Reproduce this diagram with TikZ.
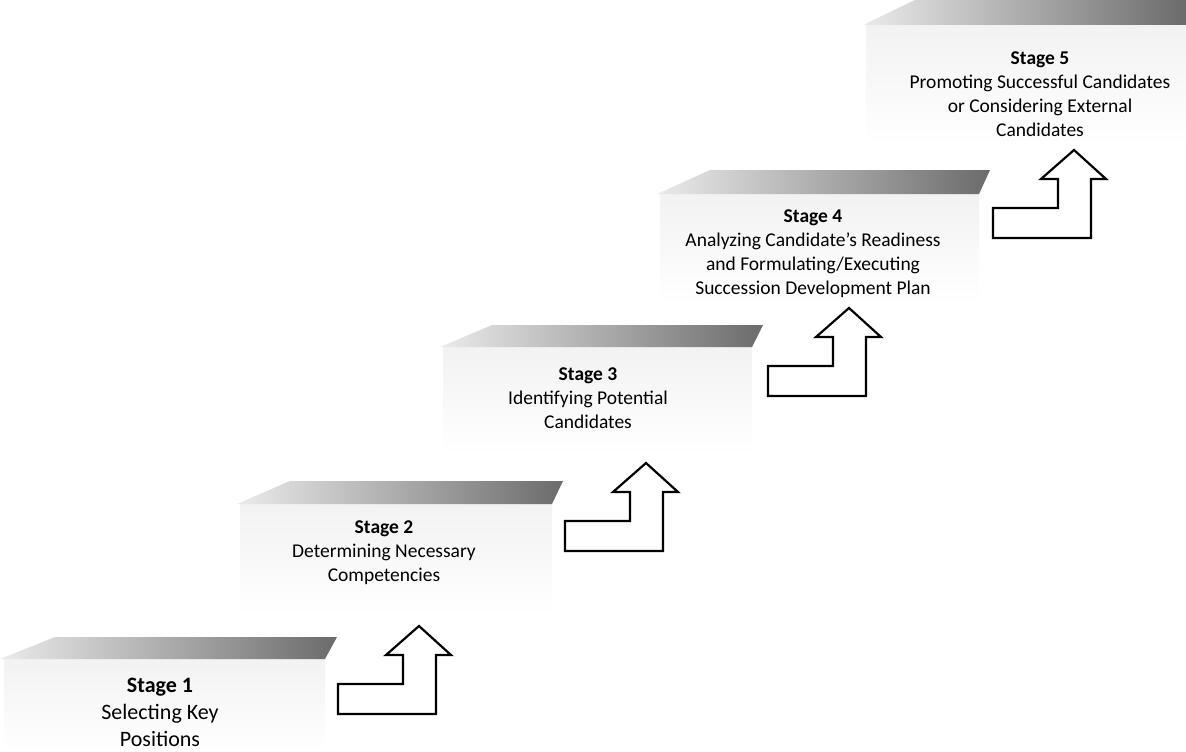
\documentclass[tikz,border=0pt]{standalone}
\usepackage{fontspec}
\setmainfont{Carlito}
\begin{document}
\begin{tikzpicture}[x=1pt,y=-1pt,
  band/.style={draw=none,left color=black!8,middle color=black!55,right color=black!58},
  body/.style={draw=none,top color=black!5,bottom color=white},
  stagetext/.style={align=center,inner sep=0pt,font=\fontsize{19.5}{24}\selectfont},
  bigtext/.style={stagetext,font=\fontsize{22}{27}\selectfont},
  arrowline/.style={draw=black,line width=2.2pt,fill=white,line join=miter},
  bentup/.pic={\path[arrowline] (0,0) -- (0,-30) -- (65,-30) -- (65,-59) -- (48,-59)
      -- (81,-88) -- (113,-59) -- (98,-59) -- (98,0) -- cycle;}]
\useasboundingbox (0,0) rectangle (1186,752);
% stage 1
\path[body] (4,659) rectangle (325,752);
\path[band] (0,659) -- (55,637) -- (337,637) -- (325,659) -- cycle;
% stage 2
\path[body] (240,504) rectangle (552,615);
\path[band] (237,504) -- (290,481) -- (563,481) -- (552,504) -- cycle;
% stage 3
\path[body] (443,347) rectangle (752,455);
\path[band] (440,347) -- (492,325) -- (763,325) -- (752,347) -- cycle;
% stage 4
\path[body] (660,194) rectangle (979,305);
\path[band] (657,194) -- (710,170) -- (990,170) -- (979,194) -- cycle;
% stage 5
\path[body] (866,25) rectangle (1186,145);
\path[band] (863,25) -- (915,0) -- (1186,0) -- (1186,25) -- cycle;
% texts
\node[bigtext] (s1) at (160,712) {\textbf{Stage 1}\\Selecting Key\\Positions};
\node[stagetext] (s2) at (384,553) {\textbf{Stage 2}\\Determining Necessary\\Competencies};
\node[stagetext] (s3) at (588,398) {\textbf{Stage 3}\\Identifying Potential\\Candidates};
\node[stagetext] (s4) at (813,254) {\textbf{Stage 4}\\Analyzing Candidate’s Readiness\\and Formulating/Executing\\Succession Development Plan};
\node[stagetext] (s5) at (1040,94) {\textbf{Stage 5}\\Promoting Successful Candidates\\or Considering External\\Candidates};
% arrows
\pic (a1) at (338,714) {bentup};
\pic (a2) at (565,551) {bentup};
\pic (a3) at (768,396) {bentup};
\pic (a4) at (993,238) {bentup};
\end{tikzpicture}
\end{document}
